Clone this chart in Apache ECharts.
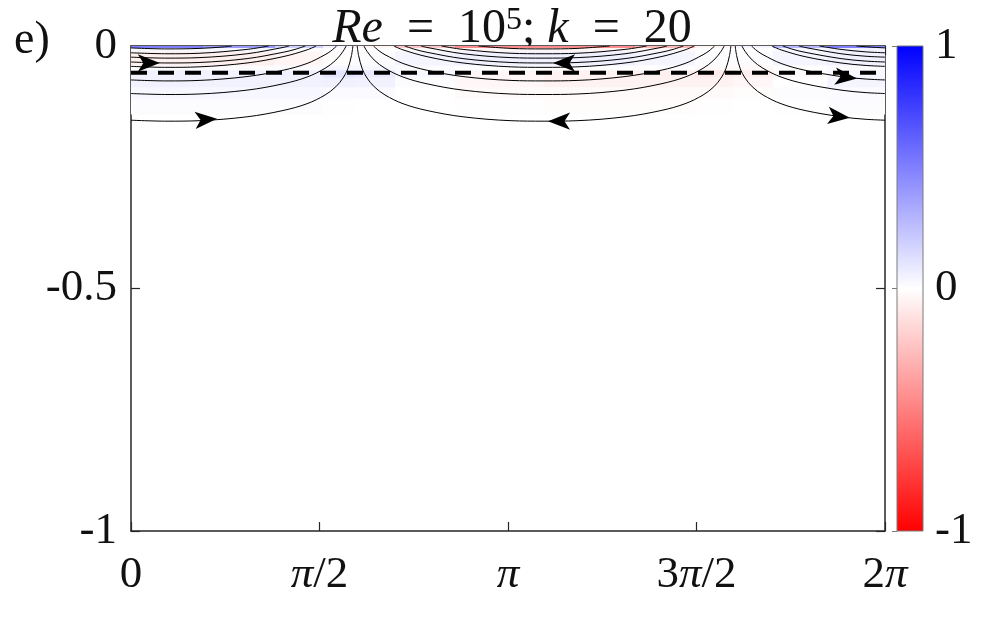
<!DOCTYPE html>
<html><head><meta charset="utf-8">
<script src="https://cdn.jsdelivr.net/npm/echarts@6/dist/echarts.min.js"></script>
<style>html,body{margin:0;padding:0;background:#fff}#c{width:997px;height:630px}</style>
</head><body><div id="c"></div>
<script>
// ---------- data ----------
const xTickLabels = ['0', 'π/2', 'π', '3π/2', '2π'];
const panelLabel = 'e)';
const titleText = '{i|Re}\u2002=\u200210{s|5}; {i|k}\u2002=\u200220';
const colorbarMin = -1, colorbarMax = 1;
const colorbarColors = ['#0000ff', '#ffffff', '#ff0000'];
const dashedDepth = -0.055;

// streamlines, left cell (flow to the right)
const leftLines = [
  [[0,-0.004],[0.300,-0.006],[0.567,-0.005],[0.767,-0.002],[0.840,0]],
  [[0,-0.014],[0.300,-0.016],[0.567,-0.015],[0.967,-0.007],[1.147,0]],
  [[0,-0.023],[0.300,-0.025],[0.567,-0.024],[0.967,-0.016],[1.267,-0.003],[1.318,0]],
  [[0,-0.033],[0.300,-0.035],[0.567,-0.034],[0.967,-0.026],[1.267,-0.013],[1.367,-0.007],[1.453,0]],
  [[0,-0.042],[0.300,-0.044],[0.567,-0.043],[0.967,-0.035],[1.267,-0.022],[1.467,-0.008],[1.543,0]],
  [[0,-0.070],[0.300,-0.072],[0.567,-0.071],[0.967,-0.063],[1.267,-0.050],[1.467,-0.036],[1.617,-0.018],[1.667,-0.010],[1.713,0]],
  [[0,-0.098],[0.300,-0.100],[0.567,-0.099],[0.967,-0.091],[1.267,-0.078],[1.467,-0.064],[1.617,-0.046],[1.707,-0.029],[1.767,-0.011],[1.793,0]],
  [[0,-0.153],[0.300,-0.155],[0.567,-0.154],[0.967,-0.146],[1.267,-0.133],[1.467,-0.119],[1.617,-0.101],[1.707,-0.084],[1.767,-0.066],[1.807,-0.047],[1.837,-0.020],[1.849,0]]
];
// streamlines, centre cell (flow to the left)
const centerLines = [
  [[2.894,0],[3.167,-0.005],[3.442,-0.006],[3.717,-0.005],[3.990,0]],
  [[2.587,0],[2.767,-0.007],[3.167,-0.015],[3.442,-0.016],[3.717,-0.015],[4.117,-0.007],[4.297,0]],
  [[2.416,0],[2.467,-0.003],[2.767,-0.016],[3.167,-0.024],[3.442,-0.025],[3.717,-0.024],[4.117,-0.016],[4.417,-0.003],[4.468,0]],
  [[2.281,0],[2.367,-0.007],[2.467,-0.013],[2.767,-0.026],[3.167,-0.034],[3.442,-0.035],[3.717,-0.034],[4.117,-0.026],[4.417,-0.013],[4.517,-0.007],[4.603,0]],
  [[2.191,0],[2.267,-0.008],[2.467,-0.022],[2.767,-0.035],[3.167,-0.043],[3.442,-0.044],[3.717,-0.043],[4.117,-0.035],[4.417,-0.022],[4.617,-0.008],[4.693,0]],
  [[2.021,0],[2.067,-0.010],[2.117,-0.018],[2.267,-0.036],[2.467,-0.050],[2.767,-0.063],[3.167,-0.071],[3.442,-0.072],[3.717,-0.071],[4.117,-0.063],[4.417,-0.050],[4.617,-0.036],[4.767,-0.018],[4.817,-0.010],[4.863,0]],
  [[1.941,0],[1.967,-0.011],[2.027,-0.029],[2.117,-0.046],[2.267,-0.064],[2.467,-0.078],[2.767,-0.091],[3.167,-0.099],[3.442,-0.100],[3.717,-0.099],[4.117,-0.091],[4.417,-0.078],[4.617,-0.064],[4.767,-0.046],[4.857,-0.029],[4.917,-0.011],[4.943,0]],
  [[1.885,0],[1.897,-0.020],[1.927,-0.047],[1.967,-0.066],[2.027,-0.084],[2.117,-0.101],[2.267,-0.119],[2.467,-0.133],[2.767,-0.146],[3.167,-0.154],[3.442,-0.155],[3.717,-0.154],[4.117,-0.146],[4.417,-0.133],[4.617,-0.119],[4.767,-0.101],[4.857,-0.084],[4.917,-0.066],[4.957,-0.047],[4.987,-0.020],[4.999,0]]
];
// streamlines, right cell (flow to the right)
const rightLines = [
  [[6.044,0],[6.150,-0.002],[6.283,-0.004]],
  [[5.737,0],[5.917,-0.007],[6.117,-0.012],[6.283,-0.014]],
  [[5.566,0],[5.617,-0.003],[5.917,-0.016],[6.117,-0.021],[6.283,-0.023]],
  [[5.431,0],[5.517,-0.007],[5.617,-0.013],[5.917,-0.026],[6.117,-0.031],[6.283,-0.033]],
  [[5.341,0],[5.417,-0.008],[5.617,-0.022],[5.917,-0.035],[6.117,-0.040],[6.283,-0.042]],
  [[5.171,0],[5.217,-0.010],[5.267,-0.018],[5.417,-0.036],[5.617,-0.050],[5.917,-0.063],[6.117,-0.068],[6.283,-0.070]],
  [[5.091,0],[5.117,-0.011],[5.177,-0.029],[5.267,-0.046],[5.417,-0.064],[5.617,-0.078],[5.917,-0.091],[6.117,-0.096],[6.283,-0.098]],
  [[5.035,0],[5.047,-0.020],[5.077,-0.047],[5.117,-0.066],[5.177,-0.084],[5.267,-0.101],[5.417,-0.119],[5.617,-0.133],[5.917,-0.146],[6.117,-0.151],[6.283,-0.153]]
];
// arrow heads on streamlines
const arrowX = [0.24, 0.717, 3.517, 3.475, 6.05, 5.99];
const arrowY = [-0.035, -0.150, -0.035, -0.155, -0.067, -0.148];
const arrowAngle = [-90, -86, 90, 90, -96, -96];

// faint colour field near the surface
const fieldXEdges = [0, 0.6, 1.2, 1.6, 1.867, 2.2, 2.7, 3.44, 4.2, 4.7, 5.017, 5.35, 5.8, 6.2832];
const fieldYEdges = [0, -0.004, -0.012, -0.04, -0.05, -0.065, -0.085, -0.11, -0.14];
const fieldValues = [
  [0.5, 0.4, 0.18, 0.04, -0.04, -0.22, -0.45, -0.45, -0.28, -0.04, 0.04, 0.28, 0.5],
  [0.03, 0.03, 0.01, 0, 0, -0.02, -0.04, -0.04, -0.03, 0, 0, 0.03, 0.05],
  [-0.06, -0.06, -0.04, -0.01, 0.01, 0.04, 0.06, 0.06, 0.04, 0.01, 0.01, 0.04, 0.05],
  [0.01, 0.01, 0.01, 0.03, 0.03, 0.01, 0, 0, 0, -0.02, -0.02, 0, 0.01],
  [0.05, 0.05, 0.06, 0.1, 0.08, 0.03, -0.03, -0.05, -0.06, -0.08, -0.06, -0.02, 0.03],
  [0.05, 0.05, 0.05, 0.06, 0.05, 0.01, -0.03, -0.05, -0.05, -0.05, -0.03, 0, 0.04],
  [0.03, 0.03, 0.03, 0.02, 0.02, 0, -0.02, -0.02, -0.02, -0.02, -0.01, 0.01, 0.02],
  [0.01, 0.01, 0.01, 0.005, 0, 0, -0.005, -0.01, -0.01, -0.005, 0, 0.005, 0.01]
];

// ---------- build the chart ----------
const F = "'Liberation Serif','Times New Roman',serif";
const TXT = '#111';
const AX = '#262626';
const TWO_PI = 2 * Math.PI;

const fieldData = [];
for (let r = 0; r < fieldValues.length; r++) {
  for (let c = 0; c < fieldValues[r].length; c++) {
    fieldData.push([fieldXEdges[c], fieldXEdges[c + 1], fieldYEdges[r], fieldYEdges[r + 1], fieldValues[r][c]]);
  }
}

const series = [];
series.push({
  type: 'custom', xAxisIndex: 0, yAxisIndex: 0, silent: true, clip: true, z: 1,
  encode: { x: [0, 1], y: [2, 3] },
  data: fieldData,
  renderItem: (params, api) => {
    const a = api.coord([api.value(0), api.value(2)]);
    const b = api.coord([api.value(1), api.value(3)]);
    return { type: 'rect', shape: { x: a[0], y: a[1], width: b[0] - a[0] + 0.7, height: b[1] - a[1] + 0.7 },
      style: { fill: api.visual('color') } };
  }
});
[...leftLines, ...centerLines, ...rightLines].forEach(line => {
  series.push({ type: 'line', xAxisIndex: 0, yAxisIndex: 0, data: line, showSymbol: false, smooth: 0.35,
    silent: true, z: 3, lineStyle: { color: '#000', width: 1 } });
});
series.push({ type: 'line', xAxisIndex: 0, yAxisIndex: 0, showSymbol: false, silent: true, z: 4,
  data: [[0, dashedDepth], [TWO_PI, dashedDepth]],
  lineStyle: { color: '#000', width: 4, type: [16, 11] } });
series.push({ type: 'scatter', xAxisIndex: 0, yAxisIndex: 0, silent: true, z: 5, symbol: 'arrow', symbolSize: [13, 22],
  itemStyle: { color: '#000', opacity: 1 },
  data: arrowX.map((x, i) => ({ value: [x, arrowY[i]], symbolRotate: arrowAngle[i] })) });
series.push({
  type: 'custom', xAxisIndex: 2, yAxisIndex: 2, silent: true, z: 2,
  data: [[0, 1, colorbarMax, colorbarMin]],
  renderItem: (params, api) => {
    const a = api.coord([api.value(0), api.value(2)]);
    const b = api.coord([api.value(1), api.value(3)]);
    return { type: 'rect', shape: { x: a[0], y: a[1], width: b[0] - a[0], height: b[1] - a[1] },
      style: { fill: new echarts.graphic.LinearGradient(0, 0, 0, 1, [
        { offset: 0, color: colorbarColors[0] }, { offset: 0.5, color: colorbarColors[1] }, { offset: 1, color: colorbarColors[2] }]),
        stroke: '#7a7a7a', lineWidth: 1 } };
  }
});

const axBase = { axisLine: { onZero: false, lineStyle: { color: AX, width: 1.5 } },
  axisTick: { inside: true, length: 9, lineStyle: { color: AX, width: 1.2 } }, splitLine: { show: false } };

const option = {
  animation: false,
  grid: [
    { left: 131, top: 46, width: 754, height: 485, show: false },
    { left: 897, top: 46, width: 26, height: 485, show: false }
  ],
  visualMap: { type: 'continuous', show: false, min: colorbarMin, max: colorbarMax, dimension: 4, seriesIndex: 0,
    inRange: { color: [colorbarColors[2], colorbarColors[1], colorbarColors[0]] } },
  xAxis: [
    Object.assign({}, axBase, { gridIndex: 0, type: 'value', position: 'bottom', min: 0, max: TWO_PI, interval: Math.PI / 2,
      axisLabel: { margin: 22, color: TXT, fontFamily: F, fontSize: 45,
        formatter: v => { const i = Math.round(v / (Math.PI / 2)); return (xTickLabels[i] || '').replace(/π/g, '{i|π}'); },
        rich: { i: { fontStyle: 'italic', fontFamily: F, fontSize: 45, color: TXT } } } }),
    Object.assign({}, axBase, { gridIndex: 0, type: 'value', position: 'top', min: 0, max: TWO_PI, interval: Math.PI / 2,
      axisLabel: { show: false } }),
    { gridIndex: 1, type: 'value', min: 0, max: 1, show: false }
  ],
  yAxis: [
    Object.assign({}, axBase, { gridIndex: 0, type: 'value', position: 'left', min: -1, max: 0, interval: 0.5,
      axisLabel: { margin: 14, color: TXT, fontFamily: F, fontSize: 45 } }),
    Object.assign({}, axBase, { gridIndex: 0, type: 'value', position: 'right', min: -1, max: 0, interval: 0.5,
      axisLabel: { show: false } }),
    { gridIndex: 1, type: 'value', position: 'right', min: colorbarMin, max: colorbarMax, interval: 1,
      axisLine: { show: false }, splitLine: { show: false },
      axisTick: { inside: true, length: 5, lineStyle: { color: '#7a7a7a' } },
      axisLabel: { margin: 12, color: TXT, fontFamily: F, fontSize: 45 } }
  ],
  graphic: [
    { type: 'text', left: 14, top: 18, style: { text: panelLabel, fontFamily: F, fontSize: 46, fill: TXT } },
    { type: 'text', x: 512, y: 5, style: { text: titleText, fontFamily: F, fontSize: 48, fill: TXT, align: 'center', verticalAlign: 'top',
      rich: { i: { fontStyle: 'italic', fontFamily: F, fontSize: 48, fill: TXT, color: TXT },
              s: { fontFamily: F, fontSize: 32, verticalAlign: 'top', fill: TXT, color: TXT } } } }
  ],
  series: series
};
const chart = echarts.init(document.getElementById('c'), null, { renderer: 'canvas' });
chart.setOption(option);
</script>
</body></html>
